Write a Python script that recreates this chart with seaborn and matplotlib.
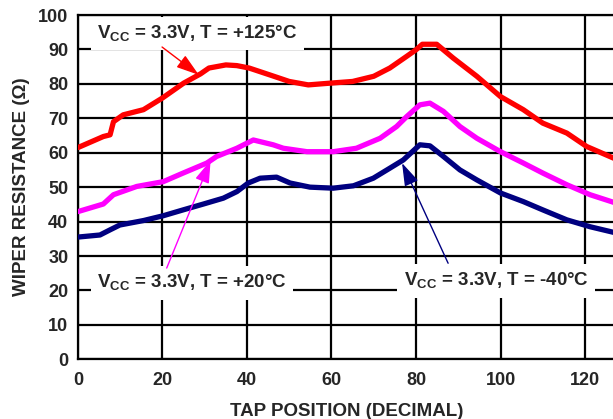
import pandas as pd
import seaborn as sns
from matplotlib import pyplot as plt

# ---- data ----
taps_125 = [0, 6, 7.6, 8.4, 10.7, 15.5, 20, 25, 29, 31, 35, 37.6, 40.5, 45.4, 50, 54.5,
            59.6, 65, 70, 73.8, 77.8, 80, 81.5, 84.9, 88.8, 94.4, 100, 105.4, 110,
            115.7, 120.4, 127]
res_125 = [61.5, 64.7, 65.2, 69, 71, 72.5, 75.9, 80.2, 82.9, 84.6, 85.5, 85.3, 84.6,
           82.6, 80.7, 79.7, 80.2, 80.7, 82.2, 84.6, 88, 89.9, 91.5, 91.5, 87.5, 82.2,
           76.3, 72.5, 68.6, 65.7, 61.8, 58.3]

taps_20 = [0, 6, 8.4, 13.9, 20.2, 24.9, 30.5, 32.8, 37.6, 41.5, 46.2, 48.6, 54.2, 60.4,
           65.9, 71.5, 75.4, 77.8, 80.9, 83.3, 86.5, 90.4, 94.4, 100, 105.4, 110, 115.7,
           121.2, 127]
res_20 = [42.9, 45.1, 47.8, 50.2, 51.6, 54.1, 57, 58.9, 61.3, 63.7, 62.3, 61.3, 60.3,
          60.3, 61.3, 64.2, 67.6, 70.5, 73.9, 74.4, 72, 67.6, 64.2, 60.3, 57, 54.1, 50.7,
          47.8, 45.5]

taps_m40 = [0, 5.2, 7.6, 9.9, 15.5, 20.2, 24.9, 29.7, 34.4, 37.6, 40.3, 43.1, 47, 50.2,
            54.9, 60.4, 65.2, 69.9, 73.8, 77, 80.9, 83.3, 86.5, 90.4, 94.4, 100, 105.4,
            110, 115.7, 121.2, 127]
res_m40 = [35.5, 36.1, 37.6, 39, 40.3, 41.7, 43.4, 45.1, 46.8, 48.7, 51.2, 52.6, 52.9,
           51.2, 50, 49.7, 50.4, 52.6, 55.5, 57.9, 62.3, 62, 58.9, 55, 52.1, 48.3, 45.8,
           43.4, 40.5, 38.5, 36.8]

series_names = ['+125', '+20', '-40']
series_colors = ['#ff0000', '#ff00ff', '#000080']

x_ticks = [0, 20, 40, 60, 80, 100, 120]
y_ticks = [0, 10, 20, 30, 40, 50, 60, 70, 80, 90, 100]

df = pd.concat([
    pd.DataFrame({'tap': taps_125, 'res': res_125, 'temp': '+125'}),
    pd.DataFrame({'tap': taps_20, 'res': res_20, 'temp': '+20'}),
    pd.DataFrame({'tap': taps_m40, 'res': res_m40, 'temp': '-40'}),
])

# ---- style ----
sns.set_style('white')
plt.rcParams['font.family'] = ['Liberation Sans', 'DejaVu Sans']
plt.rcParams['font.weight'] = 'bold'
plt.rcParams['mathtext.fontset'] = 'custom'
plt.rcParams['mathtext.rm'] = 'Liberation Sans:bold'
plt.rcParams['mathtext.bf'] = 'Liberation Sans:bold'

fig = plt.figure(figsize=(6.13, 4.19), dpi=100)
ax = fig.add_axes([0.1272, 0.1425, 0.8754, 0.8217])

sns.lineplot(data=df, x='tap', y='res', hue='temp', hue_order=series_names,
             palette=series_colors, estimator=None, lw=3.8, legend=False, ax=ax,
             zorder=3)

ax.set_xlim(0, 127)
ax.set_ylim(0, 100)
ax.set_xticks(x_ticks)
ax.set_yticks(y_ticks)
ax.grid(True, color='black', lw=1.6)
ax.set_axisbelow(True)
for side in ['left', 'bottom', 'top']:
    ax.spines[side].set_color('black')
    ax.spines[side].set_linewidth(1.6)
ax.spines['right'].set_visible(False)
ax.tick_params(length=0, labelsize=13)
ax.tick_params(axis='y', pad=7)
ax.tick_params(axis='x', pad=9)
for lab in ax.get_xticklabels() + ax.get_yticklabels():
    lab.set_fontweight('bold')

ax.set_xlabel('TAP POSITION (DECIMAL)', fontsize=13.5, fontweight='bold', labelpad=10)
ax.set_ylabel('WIPER RESISTANCE (\u03a9)', fontsize=13.5, fontweight='bold', labelpad=6)

box = dict(boxstyle='square,pad=0.35', fc='white', ec='none')
labels = [
    (r'V$_{\rm CC}$ = 3.3V, T = +125°C', (28.2, 94.6)),
    (r'V$_{\rm CC}$ = 3.3V, T = +20°C', (27, 22.2)),
    (r'V$_{\rm CC}$ = 3.3V, T = -40°C', (99, 22.8)),
]
for txt, pos in labels:
    ax.text(pos[0], pos[1], txt, ha='center', va='center', fontsize=13.5,
            fontweight='bold', bbox=box, zorder=4)

arrows = [((28.6, 82.6), (19.9, 90.7), '#ff0000'),
          ((31.4, 57.8), (21, 26.5), '#ff00ff'),
          ((76.7, 57), (87.6, 27.9), '#000080')]
for head, tail, col in arrows:
    ax.annotate('', xy=head, xytext=tail,
                arrowprops=dict(arrowstyle='-|>,head_length=1.4,head_width=0.45',
                                color=col, lw=1, shrinkA=0, shrinkB=0,
                                mutation_scale=10),
                zorder=5)

plt.savefig('out.png', dpi=100)
plt.close(fig)
